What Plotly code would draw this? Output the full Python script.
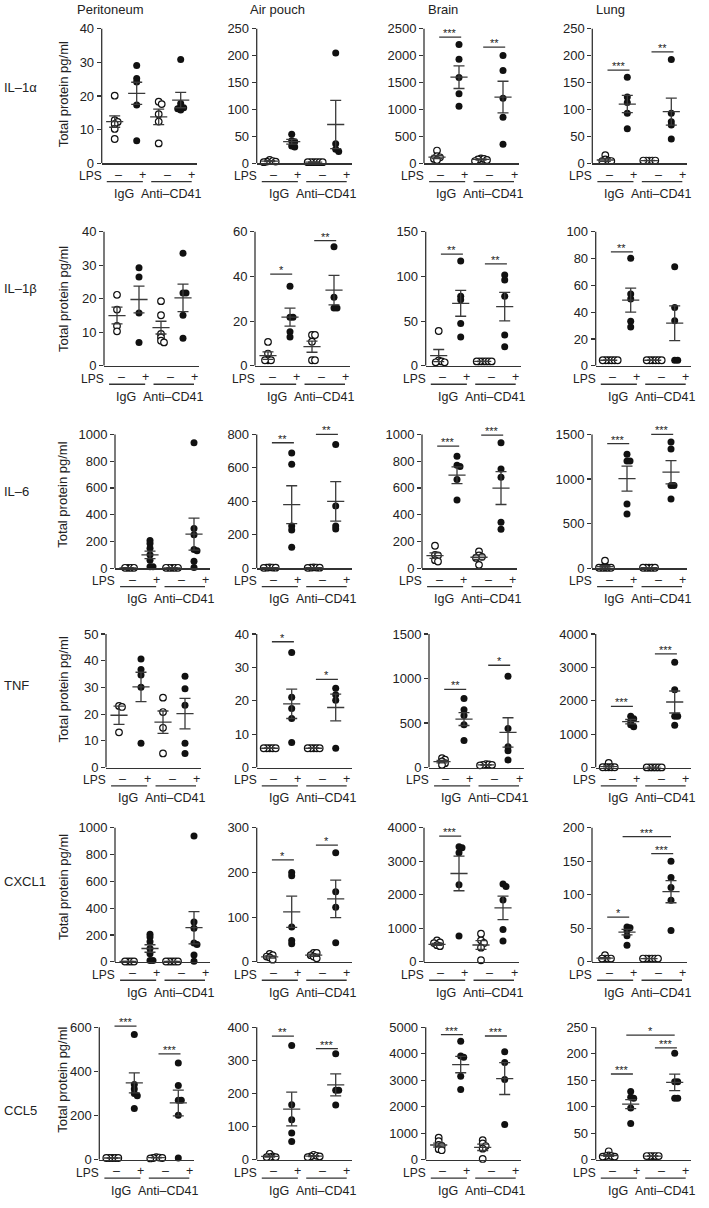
import plotly.graph_objects as go

W, H = 709, 1208
FONT = "Liberation Sans, Arial, sans-serif"
TXT = "#222222"
AX = "#333333"

ORGANS = ["Peritoneum", "Air pouch", "Brain", "Lung"]
CYTOKINES = ["IL–1α", "IL–1β", "IL–6", "TNF", "CXCL1", "CCL5"]
LPS_LABELS = ["–", "+", "–", "+"]
GROUP_LABELS = ["IgG", "Anti–CD41"]
YTITLE = "Total protein pg/ml"

# ---------------- y-axis ticks (per cytokine, per organ) ----------------
IL1A_TICKS = [[0, 10, 20, 30, 40], [0, 50, 100, 150, 200, 250], [0, 500, 1000, 1500, 2000, 2500], [0, 50, 100, 150, 200, 250]]
IL1B_TICKS = [[0, 10, 20, 30, 40], [0, 20, 40, 60], [0, 50, 100, 150], [0, 20, 40, 60, 80, 100]]
IL6_TICKS = [[0, 200, 400, 600, 800, 1000], [0, 200, 400, 600, 800], [0, 200, 400, 600, 800, 1000], [0, 500, 1000, 1500]]
TNF_TICKS = [[0, 10, 20, 30, 40, 50], [0, 10, 20, 30, 40], [0, 500, 1000, 1500], [0, 1000, 2000, 3000, 4000]]
CXCL1_TICKS = [[0, 200, 400, 600, 800, 1000], [0, 100, 200, 300], [0, 1000, 2000, 3000, 4000], [0, 50, 100, 150, 200]]
CCL5_TICKS = [[0, 200, 400, 600], [0, 100, 200, 300, 400], [0, 1000, 2000, 3000, 4000, 5000], [0, 50, 100, 150, 200, 250]]

# ---------------- data: groups = IgG-, IgG+, Anti-CD41-, Anti-CD41+ ----------------
# IL-1alpha
IL1A_PER = [[20.1, 12.8, 12.3, 11.7, 10.2, 7.2], [29.1, 25.2, 24.2, 17.3, 6.7], [18.3, 17.6, 14.6, 12.4, 5.9], [30.9, 17.8, 16.8, 16.5, 16.2, 15.8]]
IL1A_PER_MEAN = [12.4, 20.8, 13.8, 18.8]
IL1A_PER_SEM = [1.7, 3.3, 2.3, 2.3]
IL1A_AIR = [[6, 4, 3, 3, 2], [54, 42, 40, 32, 30], [2, 2, 2, 2, 2, 2], [205, 36, 26, 22]]
IL1A_AIR_MEAN = [4, 40, 2, 72]
IL1A_AIR_SEM = [1, 4.5, 0.2, 45]
IL1A_BRA = [[236, 130, 110, 80, 60], [2207, 1934, 1593, 1290, 1060], [90, 80, 70, 60, 40], [2003, 1724, 1209, 856, 353]]
IL1A_BRA_MEAN = [115, 1600, 70, 1230]
IL1A_BRA_SEM = [30, 210, 10, 295]
IL1A_LUN = [[15, 7, 5, 4, 4], [160, 123, 113, 93, 64], [5, 5, 5, 5, 5], [193, 93, 77, 71, 45]]
IL1A_LUN_MEAN = [6, 110, 5, 96]
IL1A_LUN_SEM = [2.5, 16, 0.2, 25]

# IL-1beta
IL1B_PER = [[21.2, 16.8, 11.9, 10.3], [29.3, 26.5, 15.8, 7.0], [19.3, 15.1, 9.5, 8.5, 7.5, 7.0], [33.6, 21.7, 21.7, 15.1, 8.2]]
IL1B_PER_MEAN = [15.0, 19.8, 11.4, 20.3]
IL1B_PER_SEM = [2.5, 4.0, 1.9, 4.1]
IL1B_AIR = [[10.7, 5.5, 2.5, 2.5, 2.5], [35.6, 21.8, 21.8, 15.3, 12.9], [13.8, 13.8, 10.8, 2.5, 2.5], [53.3, 30.7, 25.9, 25.9]]
IL1B_AIR_MEAN = [4.6, 21.8, 8.6, 33.9]
IL1B_AIR_SEM = [1.7, 4.0, 2.5, 6.6]
IL1B_BRA = [[39, 6, 5, 4, 4], [117.4, 78, 74, 47.4, 32.2], [5, 5, 5, 5, 5, 5], [101.5, 96, 78, 34.4, 21.5]]
IL1B_BRA_MEAN = [11.5, 70, 5, 66.3]
IL1B_BRA_SEM = [6.8, 14.5, 0.2, 16]
IL1B_LUN = [[4.2, 4.2, 4.2, 4.2, 4.2, 4.2], [80.3, 53.5, 49.8, 33.3, 28.9], [4.2, 4.2, 4.2, 4.2, 4.2, 4.2], [73.9, 43.5, 33.6, 4.2, 4.2]]
IL1B_LUN_MEAN = [4.2, 49, 4.2, 31.8]
IL1B_LUN_SEM = [0.1, 9, 0.1, 13]

# IL-6
IL6_PER = [[3, 3, 3, 3], [207, 185, 150, 100, 60, 10, 10], [3, 3, 3, 3, 3], [938, 297, 250, 140, 130, 52, 5]]
IL6_PER_MEAN = [3, 100, 3, 255]
IL6_PER_SEM = [0.3, 28, 0.3, 120]
IL6_AIR = [[5, 4, 3, 3, 2], [689, 622, 253, 228, 125], [5, 4, 3, 3, 2], [740, 372, 253, 234]]
IL6_AIR_MEAN = [3.4, 380, 3.4, 400]
IL6_AIR_SEM = [0.5, 113, 0.5, 118]
IL6_BRA = [[168, 100, 95, 60, 50], [837, 770, 760, 663, 510], [126, 95, 85, 77, 25], [938, 742, 680, 344, 292]]
IL6_BRA_MEAN = [94, 695, 82, 599]
IL6_BRA_SEM = [21, 63, 17, 123]
IL6_LUN = [[85, 5, 5, 5, 5, 5], [1277, 1203, 1203, 720, 609], [5, 5, 5, 5, 5], [1414, 1336, 928, 928, 776]]
IL6_LUN_MEAN = [18, 1005, 5, 1076]
IL6_LUN_SEM = [14, 140, 0.5, 130]

# TNF
TNF_PER = [[23.1, 22.7, 13.2], [40.7, 36.7, 34.7, 30.1, 9.1], [26.2, 20.8, 14.9, 5.3], [34.2, 29.5, 23.3, 9.1, 5.3]]
TNF_PER_MEAN = [19.6, 30.2, 17.0, 20.2]
TNF_PER_SEM = [3.4, 5.5, 4.2, 5.7]
TNF_AIR = [[5.8, 5.8, 5.8, 5.8, 5.8], [34.5, 21.1, 17.7, 14.7, 7.5], [5.8, 5.8, 5.8, 5.8, 5.8], [23.8, 21.8, 20.2, 5.8]]
TNF_AIR_MEAN = [5.8, 19.1, 5.8, 18.0]
TNF_AIR_SEM = [0, 4.4, 0, 4.0]
TNF_BRA = [[105, 90, 70, 50, 30], [775, 650, 585, 480, 305], [40, 35, 30, 30, 25], [1027, 439, 235, 190, 86]]
TNF_BRA_MEAN = [67, 545, 30, 395]
TNF_BRA_SEM = [14, 72, 3, 165]
TNF_LUN = [[140, 10, 10, 10, 10, 10], [1540, 1460, 1380, 1280, 1220], [5, 5, 5, 5, 5, 5], [3157, 2333, 1539, 1539, 1270]]
TNF_LUN_MEAN = [30, 1375, 5, 1965]
TNF_LUN_SEM = [22, 65, 0.5, 330]

# CXCL1
CXCL1_PER = [[3, 3, 3, 3], [207, 185, 150, 100, 60, 10, 10], [3, 3, 3, 3, 3], [938, 297, 250, 140, 130, 52, 5]]
CXCL1_PER_MEAN = [3, 100, 3, 255]
CXCL1_PER_SEM = [0.3, 28, 0.3, 120]
CXCL1_AIR = [[18, 15, 12, 10, 5], [200, 192.6, 77.8, 48, 40.7], [20, 20, 15, 12, 8], [244, 157, 122, 43]]
CXCL1_AIR_MEAN = [11, 112, 15, 141]
CXCL1_AIR_SEM = [2.5, 35, 2.5, 42]
CXCL1_BRA = [[640, 580, 560, 500, 470], [3437, 3407, 3259, 2301, 770], [840, 642, 563, 425, 49], [2321, 2252, 1847, 968, 622]]
CXCL1_BRA_MEAN = [523, 2637, 504, 1610]
CXCL1_BRA_SEM = [30, 515, 130, 350]
CXCL1_LUN = [[10, 5, 5, 5, 5], [52, 51, 47, 39, 25], [5, 5, 5, 5, 5, 5], [150, 126, 111, 92, 47]]
CXCL1_LUN_MEAN = [5.5, 44.4, 5, 104.7]
CXCL1_LUN_SEM = [1, 4, 0.1, 16.5]

# CCL5
CCL5_PER = [[8, 8, 8, 8, 8], [567, 340, 320, 300, 290, 232], [12, 10, 8, 8, 6], [438, 336, 269, 269, 201, 8]]
CCL5_PER_MEAN = [8, 348, 10, 257]
CCL5_PER_SEM = [0.5, 45, 1, 58]
CCL5_AIR = [[18, 10, 8, 8, 8], [345, 166, 121, 81, 55], [15, 12, 10, 10, 8], [320, 210, 210, 165]]
CCL5_AIR_MEAN = [10, 153, 11, 226]
CCL5_AIR_SEM = [2, 51, 1.5, 33]
CCL5_BRA = [[830, 700, 560, 520, 400, 360], [4469, 3914, 3864, 3148, 2654], [740, 617, 518, 420, 30], [4074, 3667, 3025, 1333]]
CCL5_BRA_MEAN = [556, 3590, 469, 3060]
CCL5_BRA_SEM = [75, 310, 120, 600]
CCL5_LUN = [[16, 8, 7, 7, 6, 6], [128.7, 118, 116, 97.6, 68.4], [7, 7, 7, 7, 7], [201, 147, 147, 116, 116]]
CCL5_LUN_MEAN = [8, 105, 7, 146]
CCL5_LUN_SEM = [1.5, 8.5, 0.2, 15.5]

# significance bars: (row, col, group_from, group_to, y value, label)
SIG = [
    (0, 2, 0, 1, 2344, "***"), (0, 2, 2, 3, 2158, "**"),
    (0, 3, 0, 1, 173, "***"), (0, 3, 2, 3, 207, "**"),
    (1, 1, 0, 1, 41, "*"), (1, 1, 2, 3, 56, "**"),
    (1, 2, 0, 1, 125, "**"), (1, 2, 2, 3, 114, "**"),
    (1, 3, 0, 1, 85, "**"),
    (2, 1, 0, 1, 750, "**"), (2, 1, 2, 3, 800, "**"),
    (2, 2, 0, 1, 913, "***"), (2, 2, 2, 3, 995, "***"),
    (2, 3, 0, 1, 1396, "***"), (2, 3, 2, 3, 1500, "***"),
    (3, 1, 0, 1, 37.7, "*"), (3, 1, 2, 3, 26.4, "*"),
    (3, 2, 0, 1, 879, "**"), (3, 2, 2, 3, 1150, "*"),
    (3, 3, 0, 1, 1836, "***"), (3, 3, 2, 3, 3405, "***"),
    (4, 1, 0, 1, 228, "*"), (4, 1, 2, 3, 261, "*"),
    (4, 2, 0, 1, 3753, "***"),
    (4, 3, 0, 1, 66.7, "*"), (4, 3, 2, 3, 161.5, "***"), (4, 3, 1, 3, 186.7, "***"),
    (5, 0, 0, 1, 605, "***"), (5, 0, 2, 3, 479, "***"),
    (5, 1, 0, 1, 373, "**"), (5, 1, 2, 3, 335, "***"),
    (5, 2, 0, 1, 4716, "***"), (5, 2, 2, 3, 4667, "***"),
    (5, 3, 0, 1, 161.7, "***"), (5, 3, 2, 3, 211, "***"), (5, 3, 1, 3, 235, "*"),
]

TICKS = [IL1A_TICKS, IL1B_TICKS, IL6_TICKS, TNF_TICKS, CXCL1_TICKS, CCL5_TICKS]
PANELS = [
    [(IL1A_PER, IL1A_PER_MEAN, IL1A_PER_SEM), (IL1A_AIR, IL1A_AIR_MEAN, IL1A_AIR_SEM),
     (IL1A_BRA, IL1A_BRA_MEAN, IL1A_BRA_SEM), (IL1A_LUN, IL1A_LUN_MEAN, IL1A_LUN_SEM)],
    [(IL1B_PER, IL1B_PER_MEAN, IL1B_PER_SEM), (IL1B_AIR, IL1B_AIR_MEAN, IL1B_AIR_SEM),
     (IL1B_BRA, IL1B_BRA_MEAN, IL1B_BRA_SEM), (IL1B_LUN, IL1B_LUN_MEAN, IL1B_LUN_SEM)],
    [(IL6_PER, IL6_PER_MEAN, IL6_PER_SEM), (IL6_AIR, IL6_AIR_MEAN, IL6_AIR_SEM),
     (IL6_BRA, IL6_BRA_MEAN, IL6_BRA_SEM), (IL6_LUN, IL6_LUN_MEAN, IL6_LUN_SEM)],
    [(TNF_PER, TNF_PER_MEAN, TNF_PER_SEM), (TNF_AIR, TNF_AIR_MEAN, TNF_AIR_SEM),
     (TNF_BRA, TNF_BRA_MEAN, TNF_BRA_SEM), (TNF_LUN, TNF_LUN_MEAN, TNF_LUN_SEM)],
    [(CXCL1_PER, CXCL1_PER_MEAN, CXCL1_PER_SEM), (CXCL1_AIR, CXCL1_AIR_MEAN, CXCL1_AIR_SEM),
     (CXCL1_BRA, CXCL1_BRA_MEAN, CXCL1_BRA_SEM), (CXCL1_LUN, CXCL1_LUN_MEAN, CXCL1_LUN_SEM)],
    [(CCL5_PER, CCL5_PER_MEAN, CCL5_PER_SEM), (CCL5_AIR, CCL5_AIR_MEAN, CCL5_AIR_SEM),
     (CCL5_BRA, CCL5_BRA_MEAN, CCL5_BRA_SEM), (CCL5_LUN, CCL5_LUN_MEAN, CCL5_LUN_SEM)],
]

# ---------------- layout geometry (pixels) ----------------
AXIS_X = [
    [101.7, 256.7, 424.0, 592.3],
    [104.0, 255.0, 425.7, 595.7],
    [115.0, 256.7, 422.0, 592.0],
    [106.0, 256.7, 429.0, 595.7],
    [115.0, 256.7, 424.0, 592.0],
    [99.3, 256.7, 425.7, 595.7],
]
ROW_TOP = [29.0, 233.3, 437.3, 638.3, 833.3, 1034.0]
ROW_ZERO = [164.3, 368.3, 572.0, 772.7, 968.3, 1167.5]
ROW_LABEL_Y = [88, 290, 495, 690, 887, 1118]
YTITLE_Y = [95, 301, 498, 694, 893, 1087]
TITLE_X = [110, 277, 443, 610]
UNIT = 22.0          # px per category step
AX_LEN = 95.0        # px length of x axis
XMIN = -13.0 / UNIT
XMAX = XMIN + AX_LEN / UNIT
TICK_POS = [4 / UNIT, 28 / UNIT, 53 / UNIT, 77 / UNIT]
EXT = 1.15
MEAN_HW = 0.39
CAP_HW = 0.25


def swarm(values, scale):
    step, dmin = 3.0, 2.9
    order = sorted(range(len(values)), key=lambda k: -values[k])
    placed = []
    offs = [0.0] * len(values)
    for k in order:
        y = values[k] * scale
        cand = 0.0
        for m in range(60):
            cand = 0.0 if m == 0 else ((m + 1) // 2) * step * (1 if m % 2 else -1)
            if all((cand - px) ** 2 + (y - py) ** 2 >= dmin ** 2 for px, py in placed):
                break
        placed.append((cand, y))
        offs[k] = cand / UNIT
    return offs


fig = go.Figure()
layout = dict(
    width=W, height=H, margin=dict(l=0, r=0, t=0, b=0),
    paper_bgcolor="white", plot_bgcolor="white", showlegend=False,
    font=dict(family=FONT, size=13, color=TXT),
)
shapes, annotations = [], []

for r in range(6):
    for c in range(4):
        n = r * 4 + c + 1
        xs = "x" if n == 1 else f"x{n}"
        ys = "y" if n == 1 else f"y{n}"
        xkey = "xaxis" if n == 1 else f"xaxis{n}"
        ykey = "yaxis" if n == 1 else f"yaxis{n}"
        ticks = TICKS[r][c]
        ymax = ticks[-1]
        pts, means, sems = PANELS[r][c]
        x0 = AXIS_X[r][c]
        top, zero = ROW_TOP[r], ROW_ZERO[r]
        hpx = zero - top
        dom_top = zero - hpx * EXT
        layout[xkey] = dict(
            domain=[x0 / W, (x0 + AX_LEN) / W], range=[XMIN, XMAX], anchor=ys,
            showline=True, linecolor=AX, linewidth=1.3, ticks="", showticklabels=False,
            showgrid=False, zeroline=False, fixedrange=True,
        )
        layout[ykey] = dict(
            domain=[1 - zero / H, 1 - dom_top / H], range=[0, ymax * EXT], anchor=xs,
            showline=False, ticks="outside", ticklen=4, tickwidth=1.2, tickcolor=AX,
            tickvals=ticks, ticktext=[str(t) for t in ticks], tickfont=dict(size=13, color=TXT),
            showgrid=False, zeroline=False, fixedrange=True,
        )
        scale = hpx / ymax
        for g in range(4):
            offs = swarm(pts[g], scale)
            is_open = g in (0, 2)
            fig.add_trace(go.Scatter(
                x=[g + o for o in offs], y=pts[g], mode="markers", xaxis=xs, yaxis=ys,
                cliponaxis=False, hoverinfo="skip",
                marker=dict(size=7 if not is_open else 6.6, symbol="circle",
                            color="white" if is_open else "#111111",
                            line=dict(color="#111111", width=1.2 if is_open else 0)),
            ))
        lx, ly = [], []
        for g in range(4):
            m, s = means[g], sems[g]
            lx += [g - MEAN_HW, g + MEAN_HW, None]
            ly += [m, m, None]
            lx += [g, g, None, g - CAP_HW, g + CAP_HW, None, g - CAP_HW, g + CAP_HW, None]
            ly += [m - s, m + s, None, m + s, m + s, None, m - s, m - s, None]
        fig.add_trace(go.Scatter(x=lx, y=ly, mode="lines", xaxis=xs, yaxis=ys,
                                 line=dict(color="#3a3a3a", width=1.3), hoverinfo="skip"))
        # y axis line up to the top tick
        shapes.append(dict(type="line", xref=f"{xs} domain", yref=ys, x0=0, x1=0, y0=0, y1=ymax,
                           line=dict(color=AX, width=1.3)))
        # LPS row: label and -/+ tick texts
        annotations.append(dict(text="LPS", xref=f"{xs} domain", x=0, xanchor="right", xshift=2,
                                yref="paper", y=1 - (zero + 13) / H, yanchor="middle",
                                showarrow=False, font=dict(size=12, color=TXT)))
        for tp, tl in zip(TICK_POS, LPS_LABELS):
            annotations.append(dict(text=tl, xref=xs, x=tp, xanchor="center",
                                    yref="paper", y=1 - (zero + 11.5) / H, yanchor="middle",
                                    showarrow=False, font=dict(size=12.5, color=TXT)))
        # group lines + labels
        for (ga, gb), lab, lxpos in zip([(-0.36, 1.28), (1.66, 3.5)], GROUP_LABELS, [0.4, 2.55]):
            shapes.append(dict(type="line", xref=xs, yref="paper", x0=ga, x1=gb,
                               y0=1 - (zero + 18.5) / H, y1=1 - (zero + 18.5) / H,
                               line=dict(color=AX, width=1.3)))
            annotations.append(dict(text=lab, xref=xs, x=lxpos, xanchor="center",
                                    yref="paper", y=1 - (zero + 31) / H, yanchor="middle",
                                    showarrow=False, font=dict(size=12.5, color=TXT)))

# significance bars
for (r, c, ga, gb, yv, lab) in SIG:
    n = r * 4 + c + 1
    xs = "x" if n == 1 else f"x{n}"
    ys = "y" if n == 1 else f"y{n}"
    xa, xb = ga + 0.1, gb + 0.1
    if gb - ga > 1:
        xa, xb = ga - 0.2, gb
    shapes.append(dict(type="line", xref=xs, yref=ys, x0=xa, x1=xb, y0=yv, y1=yv,
                       line=dict(color=AX, width=1.3)))
    annotations.append(dict(text=lab, xref=xs, yref=ys, x=(xa + xb) / 2, y=yv,
                            xanchor="center", yanchor="bottom", yshift=-4, showarrow=False,
                            font=dict(size=11, color=TXT)))

# column titles
for c, name in enumerate(ORGANS):
    annotations.append(dict(text=name, xref="paper", yref="paper", x=TITLE_X[c] / W, y=1 - 10 / H,
                            xanchor="center", yanchor="middle", showarrow=False,
                            font=dict(size=13, color=TXT)))
# row labels and y titles
for r, name in enumerate(CYTOKINES):
    annotations.append(dict(text=name, xref="paper", yref="paper", x=2 / W, y=1 - ROW_LABEL_Y[r] / H,
                            xanchor="left", yanchor="middle", showarrow=False,
                            font=dict(size=13, color=TXT)))
    annotations.append(dict(text=YTITLE, xref="paper", yref="paper", x=63 / W, y=1 - YTITLE_Y[r] / H,
                            xanchor="center", yanchor="middle", textangle=-90, showarrow=False,
                            font=dict(size=13, color=TXT)))

layout["shapes"] = shapes
layout["annotations"] = annotations
fig.update_layout(**layout)
fig.write_html(
    "out.html",
    config={"displayModeBar": False, "staticPlot": True},
    post_script="document.body.style.margin='0';document.body.style.overflow='hidden';",
)
